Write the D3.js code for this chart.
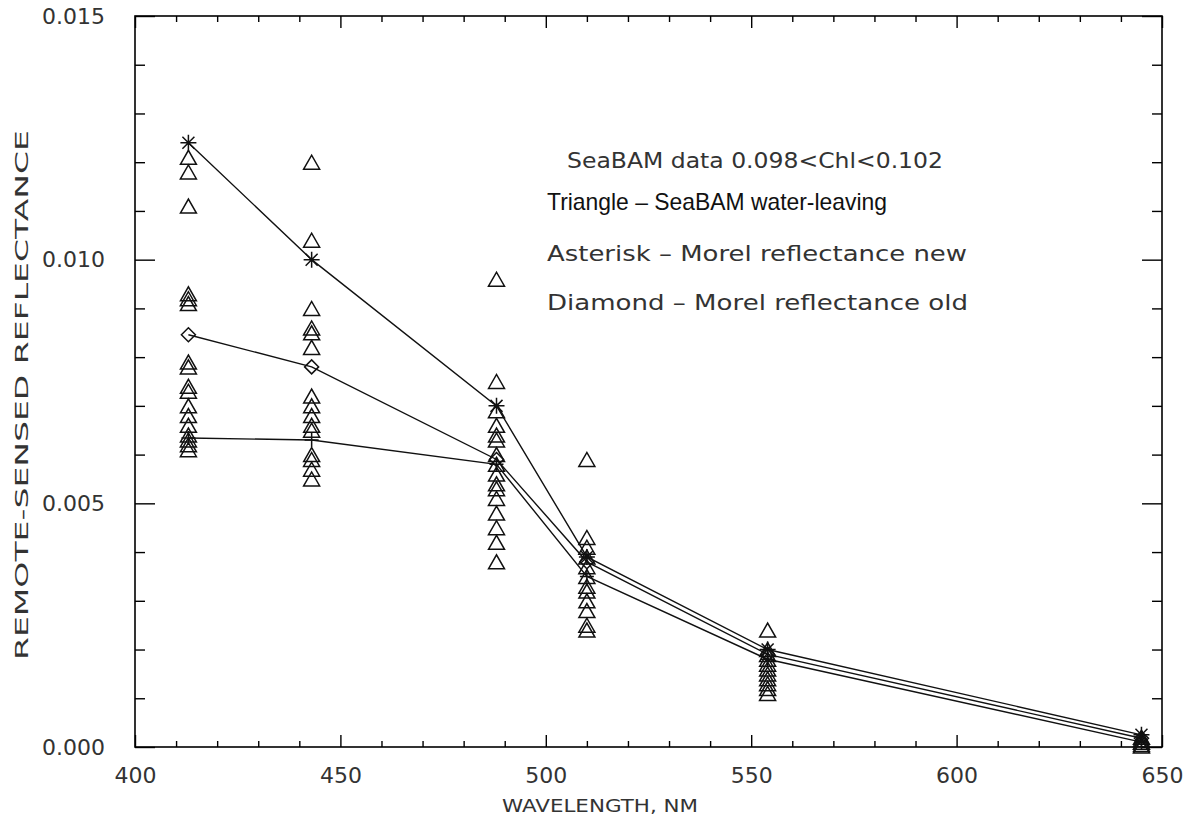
<!DOCTYPE html>
<html><head><meta charset="utf-8">
<script src="https://cdn.jsdelivr.net/npm/d3@7"></script>
<style>body{margin:0;background:#fff;}svg{display:block;}</style>
</head><body>
<svg id="c" width="1189" height="820"></svg>
<script>
// ---- data ----
const wavelengths = [413, 443, 488, 510, 554, 645];
const asteriskNew = [0.0124, 0.0100, 0.0070, 0.0039, 0.0020, 0.00025];
const diamondOld  = [0.00846, 0.0078, 0.0059, 0.0038, 0.0019, 0.00018];
const plusSeries  = [0.00634, 0.0063, 0.0058, 0.0035, 0.0018, 0.0001];
const tri412 = [0.0121, 0.0118, 0.0111, 0.0093, 0.0092, 0.0091, 0.0079, 0.0078, 0.0074, 0.0073, 0.0070, 0.0068, 0.0066, 0.0064, 0.0063, 0.0062, 0.0061];
const tri443 = [0.0120, 0.0104, 0.0090, 0.0086, 0.0085, 0.0082, 0.0072, 0.0070, 0.0068, 0.0066, 0.0065, 0.0060, 0.0059, 0.0057, 0.0055];
const tri488 = [0.0096, 0.0075, 0.0069, 0.0066, 0.0064, 0.0063, 0.0060, 0.0058, 0.0056, 0.0054, 0.0053, 0.0051, 0.0048, 0.0045, 0.0042, 0.0038];
const tri510 = [0.0059, 0.0043, 0.0041, 0.0039, 0.0037, 0.0035, 0.0033, 0.0032, 0.0030, 0.0028, 0.0025, 0.0024];
const tri555 = [0.0024, 0.0020, 0.0019, 0.0018, 0.0017, 0.0016, 0.0015, 0.0014, 0.0013, 0.0012, 0.0011];
const tri645 = [0.0002, 0.00015, 0.0001, 0.00005, 0.00002];
const triangleSets = [tri412, tri443, tri488, tri510, tri555, tri645];
const xTicks = [400, 450, 500, 550, 600, 650];
const yTicks = [0.000, 0.005, 0.010, 0.015];
const titleText = "SeaBAM data 0.098<Chl<0.102";
const legendLines = ["Triangle \u2013 SeaBAM water-leaving", "Asterisk \u2013 Morel reflectance new", "Diamond \u2013 Morel reflectance old"];
const xLabel = "WAVELENGTH, NM";
const yLabel = "REMOTE-SENSED REFLECTANCE";

// ---- layout ----
const L = 135, R = 1162, T = 16, B = 747;
const svg = d3.select("#c");
const x = d3.scaleLinear().domain([400, 650]).range([L, R]);
const y = d3.scaleLinear().domain([0, 0.015]).range([B, T]);
const font = "'DejaVu Sans', sans-serif";
const txtCol = "#333";

// axes with inward ticks
const xMinor = d3.range(400, 651, 10).filter(v => v % 50 !== 0);
const yMinor = d3.range(0, 16, 1).map(v => v / 1000).filter((v, i) => i % 5 !== 0);

function tickAxis(gen, tr) {
  const g = svg.append("g").attr("transform", tr).call(gen);
  g.select(".domain").remove();
  g.selectAll("line").attr("stroke", "#000").attr("stroke-width", 1.4);
  return g;
}
// bottom
const gb = tickAxis(d3.axisBottom(x).tickValues(xTicks).tickSize(-12).tickPadding(20).tickFormat(d3.format("d")), `translate(0,${B})`);
gb.selectAll("text").attr("font-family", font).attr("font-size", 22).attr("fill", txtCol);
tickAxis(d3.axisBottom(x).tickValues(xMinor).tickSize(-6).tickFormat(""), `translate(0,${B})`);
// top
tickAxis(d3.axisTop(x).tickValues(xTicks).tickSize(-12).tickFormat(""), `translate(0,${T})`);
tickAxis(d3.axisTop(x).tickValues(xMinor).tickSize(-6).tickFormat(""), `translate(0,${T})`);
// left
const gl = tickAxis(d3.axisLeft(y).tickValues(yTicks).tickSize(-20).tickPadding(30).tickFormat(d3.format(".3f")), `translate(${L},0)`);
gl.selectAll("text").attr("font-family", font).attr("font-size", 22).attr("fill", txtCol);
tickAxis(d3.axisLeft(y).tickValues(yMinor).tickSize(-10).tickFormat(""), `translate(${L},0)`);
// right
tickAxis(d3.axisRight(y).tickValues(yTicks).tickSize(-20).tickFormat(""), `translate(${R},0)`);
tickAxis(d3.axisRight(y).tickValues(yMinor).tickSize(-10).tickFormat(""), `translate(${R},0)`);
// frame
svg.append("rect").attr("x", L).attr("y", T).attr("width", R - L).attr("height", B - T)
  .attr("fill", "none").attr("stroke", "#000").attr("stroke-width", 1.6);

// ---- lines ----
const line = d3.line().x((d, i) => x(wavelengths[i])).y(d => y(d));
[asteriskNew, diamondOld, plusSeries].forEach(s => {
  svg.append("path").attr("d", line(s)).attr("fill", "none").attr("stroke", "#111").attr("stroke-width", 1.4);
});

// ---- markers ----
const mk = svg.append("g").attr("fill", "none").attr("stroke", "#111").attr("stroke-width", 1.5);
const triPath = "M-8,7L0,-7L8,7Z";
triangleSets.forEach((set, i) => {
  mk.selectAll(null).data(set).enter().append("path")
    .attr("transform", d => `translate(${x(wavelengths[i])},${y(d)})`)
    .attr("d", triPath);
});
const astPath = "M-8,0H8M0,-8V8M-6,-6L6,6M-6,6L6,-6";
mk.selectAll(null).data(asteriskNew).enter().append("path")
  .attr("transform", (d, i) => `translate(${x(wavelengths[i])},${y(d)})`).attr("d", astPath);
const diaPath = "M-7,0L0,-7L7,0L0,7Z";
mk.selectAll(null).data(diamondOld).enter().append("path")
  .attr("transform", (d, i) => `translate(${x(wavelengths[i])},${y(d)})`).attr("d", diaPath);
const plusPath = "M-7,0H7M0,-7V7";
mk.selectAll(null).data(plusSeries).enter().append("path")
  .attr("transform", (d, i) => `translate(${x(wavelengths[i])},${y(d)})`).attr("d", plusPath);

// ---- text ----
svg.append("text").attr("x", 567).attr("y", 168).attr("font-family", font).attr("font-size", 21)
  .attr("fill", txtCol).attr("textLength", 376).attr("lengthAdjust", "spacingAndGlyphs").text(titleText);
svg.append("text").attr("x", 547).attr("y", 210).attr("font-family", "'Liberation Sans Narrow','Liberation Sans',sans-serif")
  .attr("font-size", 24).attr("fill", "#111").attr("textLength", 340).attr("lengthAdjust", "spacingAndGlyphs").text(legendLines[0]);
svg.append("text").attr("x", 547).attr("y", 261).attr("font-family", font).attr("font-size", 21)
  .attr("fill", txtCol).attr("textLength", 420).attr("lengthAdjust", "spacingAndGlyphs").text(legendLines[1]);
svg.append("text").attr("x", 547).attr("y", 310).attr("font-family", font).attr("font-size", 21)
  .attr("fill", txtCol).attr("textLength", 421).attr("lengthAdjust", "spacingAndGlyphs").text(legendLines[2]);
svg.append("text").attr("x", 600).attr("y", 812).attr("text-anchor", "middle").attr("font-family", font)
  .attr("font-size", 18).attr("fill", txtCol).attr("textLength", 196).attr("lengthAdjust", "spacingAndGlyphs").text(xLabel);
svg.append("text").attr("transform", "translate(28,395) rotate(-90)").attr("text-anchor", "middle").attr("font-family", font)
  .attr("font-size", 18).attr("fill", txtCol).attr("textLength", 530).attr("lengthAdjust", "spacingAndGlyphs").text(yLabel);
</script>
</body></html>
